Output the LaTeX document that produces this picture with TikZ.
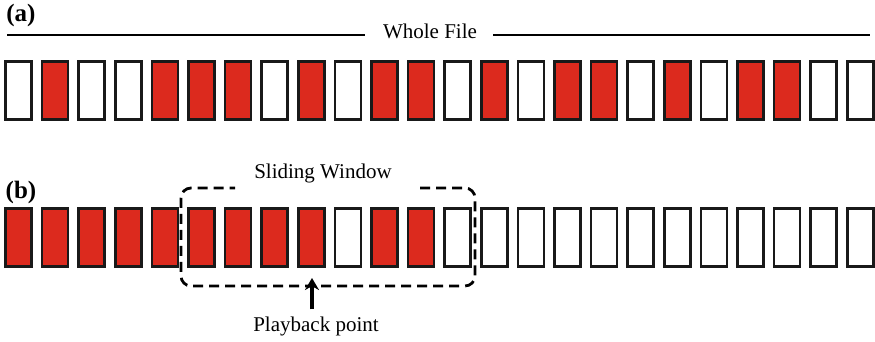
\documentclass[tikz,border=0pt]{standalone}
\usepackage{fontspec}
\setmainfont{Liberation Serif}
\usepackage{tikz}
\usetikzlibrary{positioning, arrows.meta}
\definecolor{segred}{HTML}{DC2A1E}

\begin{document}
\begin{tikzpicture}[
    x=0.5pt, y=-0.5pt,
    font=\fontsize{10.5}{12}\selectfont,
    blank/.style={draw=black!90, fill=white, line width=1.3pt, minimum width=13pt, minimum height=29pt, inner sep=0pt},
    filled/.style={blank, fill=segred},
    tag/.style={font=\fontsize{12.5}{14}\selectfont\bfseries},
    window/.style={dashed, dash pattern=on 5pt off 3pt, line width=1.4pt, rounded corners=5pt},
]
\useasboundingbox (0,0) rectangle (875,342);

% --- (a) whole file ---
\node[tag] (taga) at (21,15) {(a)};
\node (file) at (430,31) {Whole File};
\coordinate (fileL) at (7,35);
\coordinate (fileR) at (870,35);
\draw[line width=0.9pt] (fileL) -- (fileL -| 365,0);
\draw[line width=0.9pt] (fileR -| 493,0) -- (fileR);
\foreach \s [count=\i from 0] in {blank,filled,blank,blank,filled,filled,filled,blank,filled,blank,filled,filled,
                                  blank,filled,blank,filled,filled,blank,filled,blank,filled,filled,blank,blank} {
    \node[\s] (a\i) at (18.5+36.6*\i, 90.5) {};
}

% --- (b) sliding window ---
\node[tag] (tagb) at (21,192) {(b)};
\foreach \s [count=\i from 0] in {filled,filled,filled,filled,filled,filled,filled,filled,filled,blank,filled,filled,
                                  blank,blank,blank,blank,blank,blank,blank,blank,blank,blank,blank,blank} {
    \node[\s] (b\i) at (18.5+36.6*\i, 237.5) {};
}
\node (slide) at (323,173) {Sliding Window};
\draw[window] (420,188) -- (475,188) -- (475,286) -- (181,286) -- (181,188) -- (235,188);

% playback arrow
\node (play) at (316,326) {Playback point};
\coordinate (head) at (312,278);
\draw[line width=1.9pt, -{Stealth[length=6pt, width=7pt]}] (play.north -| head) -- (head);

\end{tikzpicture}
\end{document}
